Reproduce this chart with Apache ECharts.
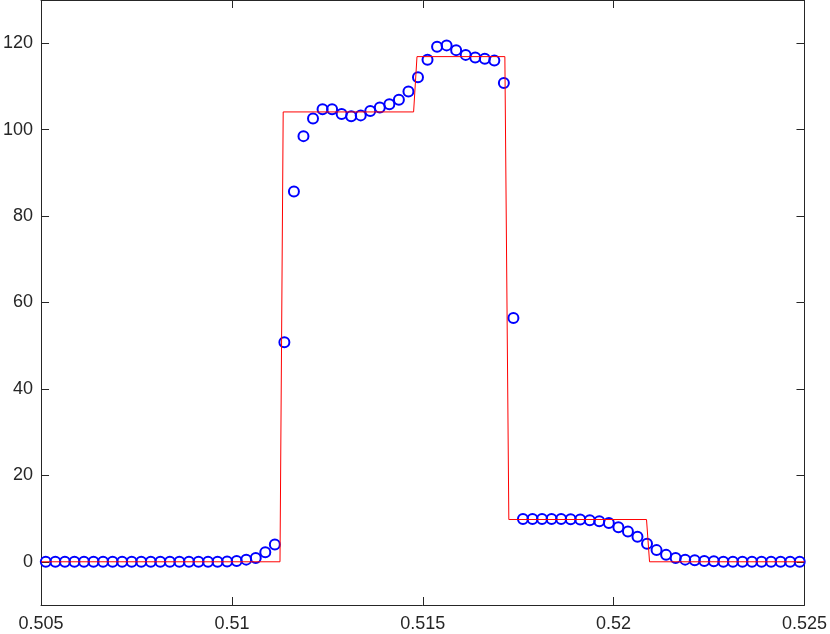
<!DOCTYPE html>
<html>
<head>
<meta charset="utf-8">
<script src="https://cdn.jsdelivr.net/npm/echarts@6/dist/echarts.min.js"></script>
<style>
html,body{margin:0;padding:0;background:#fff;}
#chart{width:830px;height:634px;}
</style>
</head>
<body>
<div id="chart"></div>
<script>
// Numerical solution (circles)
var numX = [
0.505125,0.505375,0.505625,0.505875,0.506125,0.506375,0.506625,0.506875,0.507125,0.507375,
0.507625,0.507875,0.508125,0.508375,0.508625,0.508875,0.509125,0.509375,0.509625,0.509875,
0.510125,0.510375,0.510625,0.510875,0.511125,0.511375,0.511625,0.511875,0.512125,0.512375,
0.512625,0.512875,0.513125,0.513375,0.513625,0.513875,0.514125,0.514375,0.514625,0.514875,
0.515125,0.515375,0.515625,0.515875,0.516125,0.516375,0.516625,0.516875,0.517125,0.517375,
0.517625,0.517875,0.518125,0.518375,0.518625,0.518875,0.519125,0.519375,0.519625,0.519875,
0.520125,0.520375,0.520625,0.520875,0.521125,0.521375,0.521625,0.521875,0.522125,0.522375,
0.522625,0.522875,0.523125,0.523375,0.523625,0.523875,0.524125,0.524375,0.524625,0.524875
];
var numY = [
0,0,0,0,0,0,0,0,0,0,
0,0,0,0,0,0,0,0,0,0.05,
0.2,0.5,0.9,2.2,4.0,50.8,85.7,98.5,102.6,104.7,
104.7,103.6,103.1,103.3,104.3,105.1,105.9,106.9,108.8,112.1,
116.2,119.2,119.5,118.4,117.3,116.7,116.4,116.0,110.8,56.4,
9.9,9.9,9.9,9.9,9.9,9.85,9.8,9.6,9.4,9.0,
8.0,7.0,5.8,4.2,2.7,1.6,0.85,0.5,0.35,0.2,
0.1,0,0,0,0,0,0,0,0,0
];
// Exact solution (red line)
var exactX = [0.505,0.51126,0.511344,0.51476,0.514849,0.517151,0.517255,0.520862,0.520941,0.525];
var exactY = [0,0,104.1,104.1,116.9,116.9,9.78,9.78,0,0];
// Tick labels
var xTicks = [0.505,0.51,0.515,0.52,0.525];
var yTicks = [0,20,40,60,80,100,120];

function pairs(a,b){var r=[];for(var i=0;i<a.length;i++){r.push([a[i],b[i]]);}return r;}

var axisColor = '#262626';
var font = {fontFamily:'Liberation Sans', fontSize:18, color:axisColor};

function axisCommon(ticks){
  return {
    axisLine:{show:true,onZero:false,lineStyle:{color:axisColor,width:1}},
    axisTick:{show:true,inside:true,length:8,customValues:ticks,lineStyle:{color:axisColor}},
    splitLine:{show:false}
  };
}

var chart = echarts.init(document.getElementById('chart'), null, {renderer:'canvas'});
chart.setOption({
  animation:false,
  backgroundColor:'#ffffff',
  grid:{left:40,right:23,top:0,bottom:29,containLabel:false},
  xAxis:[
    Object.assign({type:'value',min:0.505,max:0.525,position:'bottom',
      axisLabel:Object.assign({show:true,margin:10,customValues:xTicks,
        formatter:function(v){return String(+v.toFixed(3));}},font)}, axisCommon(xTicks)),
    Object.assign({type:'value',min:0.505,max:0.525,position:'top',
      axisLabel:{show:false}}, axisCommon(xTicks))
  ],
  yAxis:[
    Object.assign({type:'value',min:-10,max:130,position:'left',
      axisLabel:Object.assign({show:true,margin:8,customValues:yTicks},font)}, axisCommon(yTicks)),
    Object.assign({type:'value',min:-10,max:130,position:'right',
      axisLabel:{show:false}}, axisCommon(yTicks))
  ],
  series:[{
    type:'scatter',
    xAxisIndex:0,yAxisIndex:0,
    data:pairs(numX,numY),
    symbol:'circle',
    symbolSize:10,
    itemStyle:{color:'rgba(0,0,0,0)',borderColor:'#0000ff',borderWidth:2,opacity:1},
    silent:true
  },{
    type:'line',
    xAxisIndex:0,yAxisIndex:0,
    data:pairs(exactX,exactY),
    showSymbol:false,
    symbol:'none',
    lineStyle:{color:'#ff0000',width:1},
    silent:true
  }]
});
</script>
</body>
</html>
